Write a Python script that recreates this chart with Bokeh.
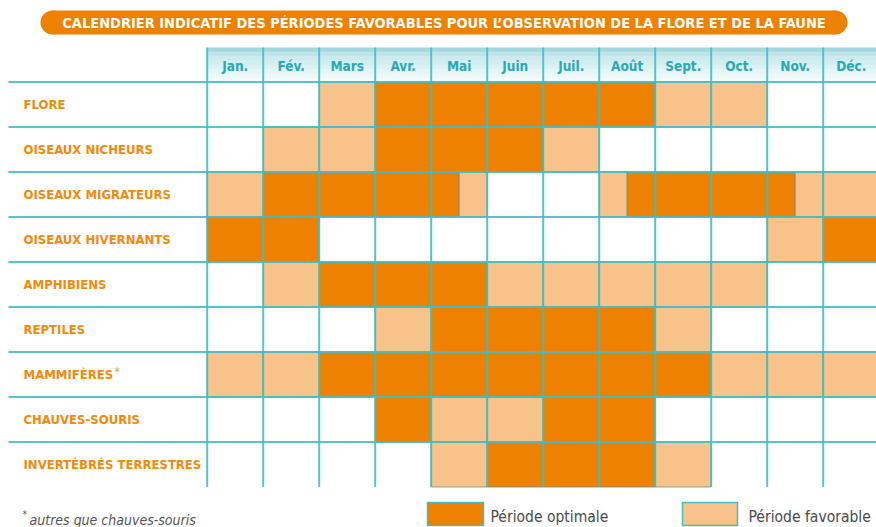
from bokeh.plotting import figure
from bokeh.models import Range1d
from bokeh.core.properties import value
from bokeh.embed import file_html
from bokeh.resources import INLINE

title = "CALENDRIER INDICATIF DES PÉRIODES FAVORABLES POUR L’OBSERVATION DE LA FLORE ET DE LA FAUNE"
months = ["Jan.", "Fév.", "Mars", "Avr.", "Mai", "Juin", "Juil.", "Août", "Sept.", "Oct.", "Nov.", "Déc."]
groups = ["FLORE", "OISEAUX NICHEURS", "OISEAUX MIGRATEURS", "OISEAUX HIVERNANTS", "AMPHIBIENS",
          "REPTILES", "MAMMIFÈRES", "CHAUVES-SOURIS", "INVERTÉBRÉS TERRESTRES"]
# O = période optimale, F = période favorable, - = rien ; deux lettres = 1re / 2e quinzaine
flore       = ["-", "-", "F", "O", "O", "O", "O", "O", "F", "F", "-", "-"]
nicheurs    = ["-", "F", "F", "O", "O", "O", "F", "-", "-", "-", "-", "-"]
migrateurs  = ["F", "O", "O", "O", "OF", "-", "-", "FO", "O", "O", "OF", "F"]
hivernants  = ["O", "O", "-", "-", "-", "-", "-", "-", "-", "-", "F", "O"]
amphibiens  = ["-", "F", "O", "O", "O", "F", "F", "F", "F", "F", "-", "-"]
reptiles    = ["-", "-", "-", "F", "O", "O", "O", "O", "F", "-", "-", "-"]
mammiferes  = ["F", "F", "O", "O", "O", "O", "O", "O", "O", "F", "F", "F"]
chiropteres = ["-", "-", "-", "O", "F", "F", "O", "O", "-", "-", "-", "-"]
invertebres = ["-", "-", "-", "-", "F", "O", "O", "O", "F", "-", "-", "-"]
calendar = [flore, nicheurs, migrateurs, hivernants, amphibiens, reptiles, mammiferes, chiropteres, invertebres]
legend_labels = ["Période optimale", "Période favorable"]
footnote = "autres que chauves-souris"

ORANGE = "#EE8100"
LIGHT = "#F7C38B"
TEAL = "#45BCC4"
FONT = "DejaVu Sans Condensed"
fill_of = {"O": ORANGE, "F": LIGHT}

# layout helpers (pixel -> data units : 1 month = 56 px, 1 row = 45 px)
X0, COLW, Y0, ROWH = 206.7, 56.0, 81.5, 45.0
def px(x):
    return (x - X0) / COLW
def py(y):
    return (y - Y0) / ROWH

W, H = 876, 527
p = figure(width=W, height=H, output_backend="svg", toolbar_location=None,
           x_range=Range1d(px(0), px(W)), y_range=Range1d(py(H), py(0)),
           x_axis_type=None, y_axis_type=None, min_border=0,
           outline_line_color=None, background_fill_color="white")
p.grid.visible = False

# title pill
p.quad(left=[px(52)], right=[px(835)], top=[py(10)], bottom=[py(34)],
       fill_color=ORANGE, line_color=None)
p.scatter(x=[px(52), px(835)], y=[py(22), py(22)], size=24, marker="circle",
          fill_color=ORANGE, line_color=None)
p.text(x=[px(443.5)], y=[py(22.5)], text=[title], text_font=value(FONT),
       text_font_size=value("14.5px"), text_font_style="bold", text_color="white",
       text_align="center", text_baseline="middle")

# header gradient
band_cols = ["#a3d9de", "#bfe5e8", "#cdebee", "#d3eef0", "#dcf1f3", "#e4f5f6", "#ecf8f9", "#f2fafb"]
top_px = 47.0
step = (Y0 - top_px) / len(band_cols)
for k, c in enumerate(band_cols):
    p.quad(left=[0], right=[len(months)], top=[py(top_px + k * step)],
           bottom=[py(top_px + (k + 1) * step + 0.5)], fill_color=c, line_color=None)
p.text(x=[j + 0.5 for j in range(len(months))], y=[py(65)] * len(months), text=months,
       text_font=value(FONT), text_font_size=value("13.5px"), text_font_style="bold",
       text_color="#2aa8b4", text_align="center", text_baseline="middle")

# cells
L, R, T, B, C = [], [], [], [], []
for i, row in enumerate(calendar):
    for j, code in enumerate(row):
        parts = list(code)
        n = len(parts)
        for k, c in enumerate(parts):
            if c in fill_of:
                L.append(j + k / n); R.append(j + (k + 1) / n)
                T.append(i); B.append(i + 1); C.append(fill_of[c])
p.quad(left=L, right=R, top=T, bottom=B, fill_color=C, line_color="#5f9683",
       line_width=1, line_alpha=0.8)

# grid lines
nrow = len(groups)
p.segment(x0=list(range(len(months) + 1)), x1=list(range(len(months) + 1)),
          y0=[py(47)] * (len(months) + 1), y1=[nrow] * (len(months) + 1),
          line_color=TEAL, line_width=2, line_alpha=0.9)
p.segment(x0=[px(8)] * nrow, x1=[len(months)] * nrow,
          y0=list(range(nrow)), y1=list(range(nrow)),
          line_color=TEAL, line_width=2, line_alpha=0.9)

# row labels
p.text(x=[px(23)] * nrow, y=[i + 0.5 for i in range(nrow)], text=groups,
       text_font=value(FONT), text_font_size=value("13px"), text_font_style="bold",
       text_color="#F18A0A", text_align="left", text_baseline="middle")
p.text(x=[px(114)], y=[py(371)], text=["*"], text_font=value(FONT),
       text_font_size=value("12px"), text_color="#E0A070", text_align="left",
       text_baseline="middle")

# legend
sw_left = [px(427), px(682)]
sw_right = [px(483), px(737)]
p.quad(left=sw_left, right=sw_right, top=[py(502)] * 2, bottom=[py(525)] * 2,
       fill_color=[ORANGE, LIGHT], line_color=TEAL, line_width=1.5)
p.text(x=[px(490), px(748)], y=[py(516)] * 2, text=legend_labels, text_font=value(FONT),
       text_font_size=value("15.5px"), text_color="#4a4a4a", text_align="left",
       text_baseline="middle")

# footnote
p.text(x=[px(22)], y=[py(514)], text=["*"], text_font=value(FONT),
       text_font_size=value("10px"), text_color="#555555", text_align="left",
       text_baseline="middle")
p.text(x=[px(29)], y=[py(519)], text=[footnote], text_font=value(FONT),
       text_font_size=value("14px"), text_font_style="italic", text_color="#555555",
       text_align="left", text_baseline="middle")

open("out.html", "w").write(file_html(p, INLINE))
